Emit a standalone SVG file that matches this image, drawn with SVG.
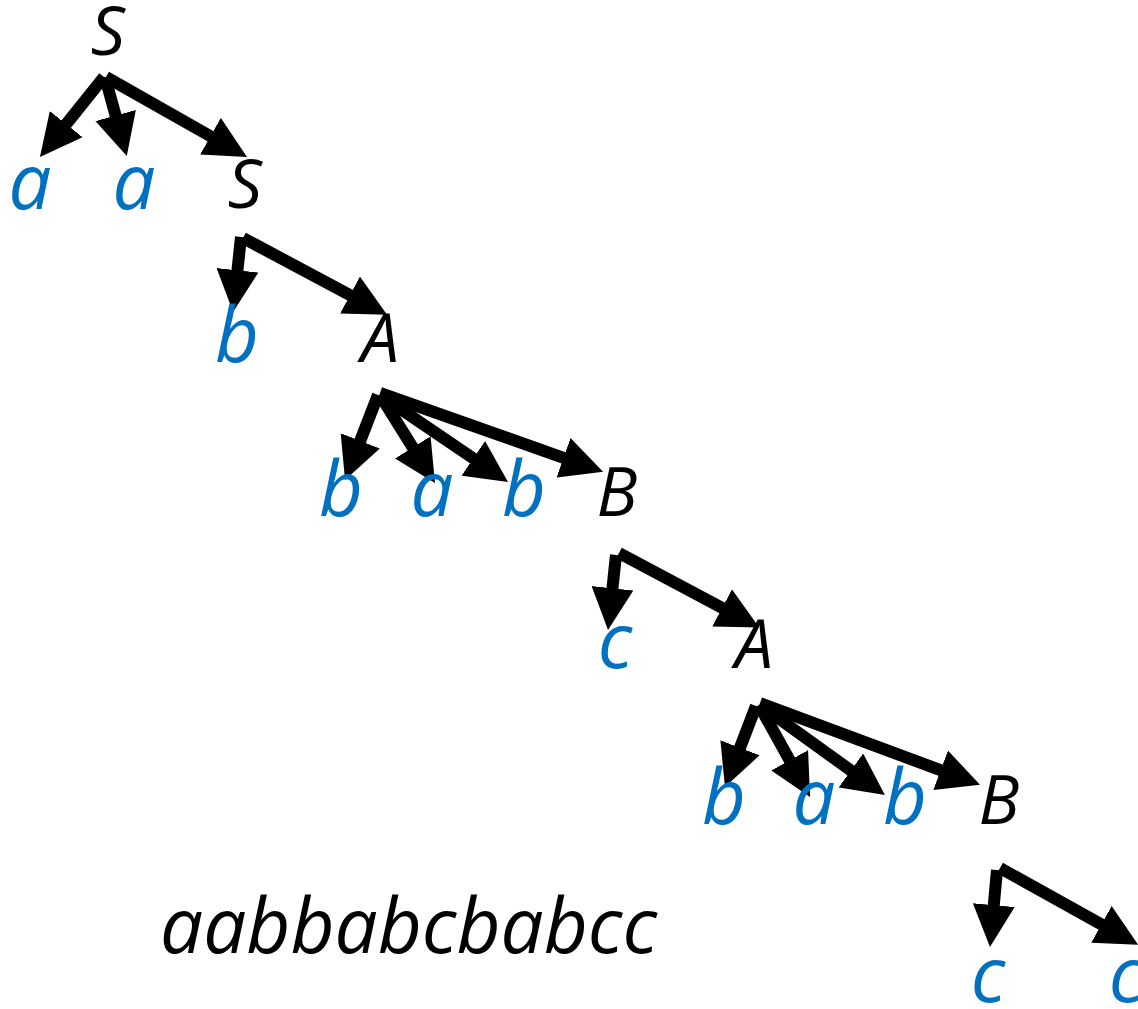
<svg xmlns="http://www.w3.org/2000/svg" width="1138" height="1009" viewBox="0 0 1138 1009">
<style>
.t{font-family:"Open Sans","Noto Sans","DejaVu Sans",sans-serif;font-style:italic;fill:#0070C0;font-size:76px;text-anchor:middle}
.n{font-family:"Open Sans","Noto Sans","DejaVu Sans",sans-serif;font-style:italic;fill:#000;font-size:68px;text-anchor:middle}
.w{font-family:"Open Sans","Noto Sans","DejaVu Sans",sans-serif;font-style:italic;fill:#000;font-size:76px}
.e{stroke:#000;stroke-width:12;fill:none;marker-end:url(#ah)}
</style>
<defs>
<marker id="ah" markerUnits="userSpaceOnUse" viewBox="0 0 42 42" markerWidth="42" markerHeight="42" refX="12" refY="21" orient="auto">
<path d="M0,0 L42,21 L0,42 z" fill="#000"/>
</marker>
</defs>
<g id="connectors">
<line class="e" x1="104" y1="77" x2="58.7" y2="133.5"/>
<line class="e" x1="105" y1="77" x2="118.8" y2="127.1"/>
<line class="e" x1="106" y1="77" x2="220.9" y2="142.1"/>
<line class="e" x1="241" y1="237" x2="236.2" y2="282.2"/>
<line class="e" x1="243" y1="238" x2="360.6" y2="300.7"/>
<line class="e" x1="378" y1="395" x2="355.9" y2="452"/>
<line class="e" x1="380" y1="395" x2="419.1" y2="457.6"/>
<line class="e" x1="380" y1="395" x2="483.2" y2="465.1"/>
<line class="e" x1="380" y1="393" x2="574.8" y2="461.8"/>
<line class="e" x1="616" y1="555" x2="611.2" y2="600.2"/>
<line class="e" x1="619" y1="553" x2="732.7" y2="613.5"/>
<line class="e" x1="756" y1="706" x2="735.7" y2="759"/>
<line class="e" x1="759" y1="705" x2="795.5" y2="770.8"/>
<line class="e" x1="760" y1="705" x2="860.6" y2="777.5"/>
<line class="e" x1="760" y1="703" x2="951.9" y2="774.4"/>
<line class="e" x1="997" y1="870" x2="992.7" y2="917.1"/>
<line class="e" x1="1000" y1="868" x2="1111.9" y2="930.2"/>
</g>
<g id="n1"><text class="n" x="108" y="55">S</text></g>
<g id="n2"><text class="t" x="30" y="209">a</text></g>
<g id="n3"><text class="t" x="134" y="209">a</text></g>
<g id="n4"><text class="n" x="245" y="208">S</text></g>
<g id="n5"><text class="t" x="237" y="362">b</text></g>
<g id="n6"><text class="n" x="380" y="362">A</text></g>
<g id="n7"><text class="t" x="341" y="516">b</text></g>
<g id="n8"><text class="t" x="432" y="516">a</text></g>
<g id="n9"><text class="t" x="524" y="516">b</text></g>
<g id="n10"><text class="n" x="617" y="516">B</text></g>
<g id="n11"><text class="t" x="615" y="668">c</text></g>
<g id="n12"><text class="n" x="754" y="668">A</text></g>
<g id="n13"><text class="t" x="724" y="824">b</text></g>
<g id="n14"><text class="t" x="814" y="824">a</text></g>
<g id="n15"><text class="t" x="905" y="824">b</text></g>
<g id="n16"><text class="n" x="999" y="824">B</text></g>
<g id="n17"><text class="t" x="988" y="1002">c</text></g>
<g id="n18"><text class="t" x="1126" y="1002">c</text></g>
<g id="word"><text class="w" x="160" y="953" textLength="497" lengthAdjust="spacingAndGlyphs">aabbabcbabcc</text></g>
</svg>
